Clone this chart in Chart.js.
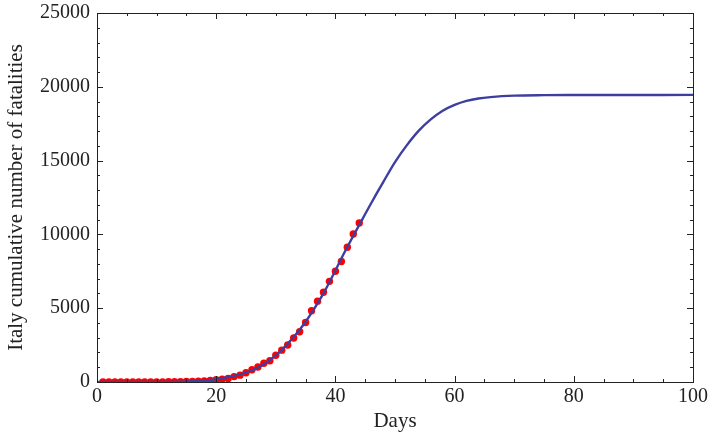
<!DOCTYPE html>
<html>
<head>
<meta charset="utf-8">
<script src="https://cdn.jsdelivr.net/npm/chart.js@4"></script>
<style>
  html, body { margin: 0; padding: 0; background: #fff; }
  #wrap { width: 710px; height: 438px; }
</style>
</head>
<body>
<div id="wrap"><canvas id="chart"></canvas></div>
<script>
// observed cumulative fatalities, day 1 .. 44
const obsDays = [];
for (let d = 1; d <= 44; d++) obsDays.push(d);
const obsDeaths = [0, 0, 0, 0, 0, 0, 1, 2, 3, 7, 10, 12, 17, 21, 29, 34, 52, 79, 107, 148,
  197, 233, 366, 463, 631, 827, 1016, 1266, 1441, 1809, 2158, 2503, 2978, 3405, 4032,
  4825, 5476, 6077, 6820, 7503, 8165, 9134, 10023, 10779];

// fitted curve
const fitDays = [0, 10, 15, 18, 20, 22, 24, 26, 27, 28, 29, 30, 31, 32, 33, 34, 35, 36, 37, 38, 39, 40,
  41, 42, 43, 44, 45, 46, 47, 48, 50, 52, 54, 56, 58, 60, 62, 64, 66, 70, 75, 80, 100];
const fitDeaths = [0, 8, 40, 100, 190, 330, 520, 780, 980, 1200, 1480, 1800, 2180, 2600, 3050,
  3540, 4080, 4680, 5330, 6010, 6760, 7550, 8370, 9150, 9900, 10640, 11380, 12110, 12830, 13530,
  14900, 16050, 17030, 17790, 18380, 18780, 19050, 19210, 19300, 19400, 19435, 19445, 19450];

const xTicks = [0, 20, 40, 60, 80, 100];
const yTicks = [0, 5000, 10000, 15000, 20000, 25000];

const FONT = "'Liberation Serif', 'Times New Roman', serif";
const INK = '#222';

// frame + inward ticks on all four sides
const framePlugin = {
  id: 'frame',
  afterDraw(chart) {
    const {ctx, chartArea: a, scales: {x, y}} = chart;
    ctx.save();
    ctx.strokeStyle = INK;
    ctx.lineWidth = 1;
    ctx.strokeRect(a.left + 0.5, a.top + 0.5, a.right - a.left, a.bottom - a.top);
    ctx.beginPath();
    for (let v = 0; v <= 100; v += 5) {
      const px = Math.round(x.getPixelForValue(v)) + 0.5;
      const len = v % 20 === 0 ? 6 : 3;
      ctx.moveTo(px, a.bottom); ctx.lineTo(px, a.bottom - len);
      ctx.moveTo(px, a.top); ctx.lineTo(px, a.top + len);
    }
    for (let v = 0; v <= 25000; v += 1000) {
      const py = Math.round(y.getPixelForValue(v)) + 0.5;
      const len = v % 5000 === 0 ? 6 : 3;
      ctx.moveTo(a.left, py); ctx.lineTo(a.left + len, py);
      ctx.moveTo(a.right, py); ctx.lineTo(a.right - len, py);
    }
    ctx.stroke();
    ctx.restore();
  }
};

new Chart(document.getElementById('chart'), {
  type: 'scatter',
  data: {
    datasets: [
      {
        label: 'fit',
        data: fitDays.map((d, i) => ({x: d, y: fitDeaths[i]})),
        showLine: true,
        cubicInterpolationMode: 'monotone',
        borderColor: '#3e3ea0',
        borderWidth: 2.4,
        pointRadius: 0
      },
      {
        label: 'Italy',
        data: obsDays.map((d, i) => ({x: d, y: obsDeaths[i]})),
        backgroundColor: '#ff0000',
        borderWidth: 0,
        pointRadius: 3.7
      }
    ]
  },
  options: {
    responsive: true,
    maintainAspectRatio: false,
    animation: false,
    layout: { padding: { top: 13, right: 17, left: 0, bottom: 0 } },
    plugins: { legend: { display: false }, tooltip: { enabled: false } },
    scales: {
      x: {
        type: 'linear', min: 0, max: 100,
        afterBuildTicks: s => { s.ticks = xTicks.map(v => ({value: v})); },
        afterFit: s => { s.height = 56; s.paddingLeft = 0; s.paddingRight = 0; },
        grid: { display: false, drawTicks: false },
        border: { display: false },
        ticks: { color: INK, font: { family: FONT, size: 20 }, padding: 3, maxRotation: 0,
                 callback: v => String(v) },
        title: { display: true, text: 'Days', color: INK, font: { family: FONT, size: 21 }, padding: { top: 4 } }
      },
      y: {
        type: 'linear', min: 0, max: 25000,
        afterBuildTicks: s => { s.ticks = yTicks.map(v => ({value: v})); },
        afterFit: s => { s.width = 97; s.paddingTop = 0; s.paddingBottom = 0; },
        grid: { display: false, drawTicks: false },
        border: { display: false },
        ticks: { color: INK, font: { family: FONT, size: 20 }, padding: 7,
                 callback: v => String(v) },
        title: { display: true, text: 'Italy cumulative number of fatalities', color: INK,
                 font: { family: FONT, size: 21 }, padding: { bottom: 2 } }
      }
    }
  },
  plugins: [framePlugin]
});
</script>
</body>
</html>
